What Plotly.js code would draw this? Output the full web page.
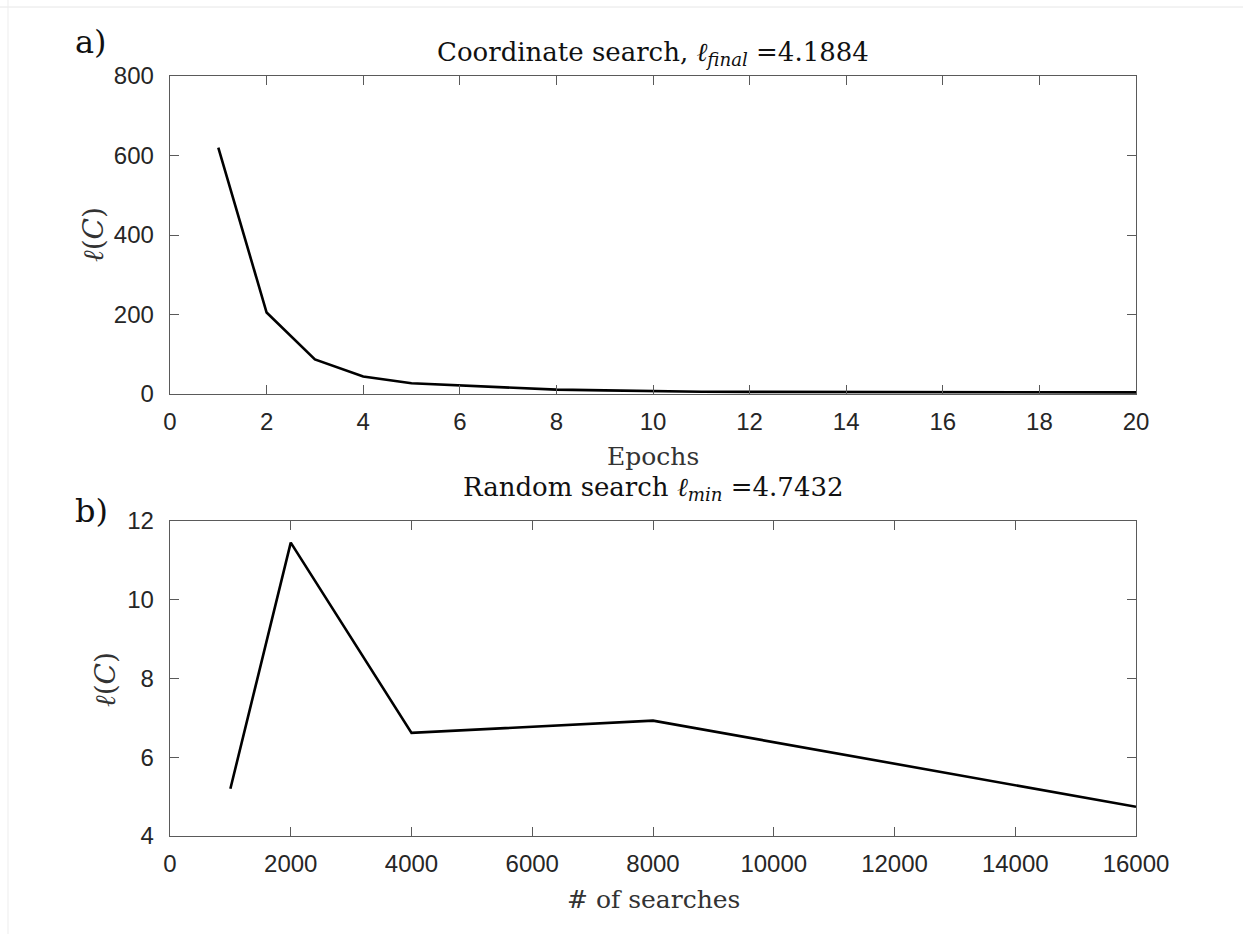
<!DOCTYPE html>
<html>
<head>
<meta charset="utf-8">
<script src="https://cdn.plot.ly/plotly-3.0.1.min.js"></script>
<style>html,body{margin:0;padding:0;background:#fff;}#chart{width:1243px;height:934px;}</style>
</head>
<body>
<div id="chart"></div>
<script>
// Panel a) Coordinate search
const epochs = [1,2,3,4,5,6,7,8,9,10,11,12,13,14,15,16,17,18,19,20];
const coordLoss = [620,205,87,44,27,22,16,11,9,7,5.8,5.3,5.0,4.8,4.6,4.5,4.4,4.3,4.25,4.1884];
// Panel b) Random search
const searches = [1000,2000,4000,8000,16000];
const randomLoss = [5.2,11.45,6.62,6.93,4.7432];

const xTicksA = [0,2,4,6,8,10,12,14,16,18,20];
const yTicksA = [0,200,400,600,800];
const xTicksB = [0,2000,4000,6000,8000,10000,12000,14000,16000];
const yTicksB = [4,6,8,10,12];

const axisColor = '#5a5a5a';
const tickFont = {family: 'Liberation Sans, Arial, sans-serif', size: 24, color: '#262626'};
const serif = 'DejaVu Serif, Liberation Serif, serif';

function axisBase(range, ticks, domain, anchor, isX) {
  return {
    range: range, domain: domain, anchor: anchor,
    tickmode: 'array', tickvals: ticks, ticktext: ticks.map(String),
    ticks: 'inside', ticklen: 9, tickwidth: 1, tickcolor: axisColor,
    showline: true, linecolor: axisColor, linewidth: 1.3, mirror: 'ticks',
    showgrid: false, zeroline: false, tickfont: tickFont, fixedrange: true,
    ticklabelstandoff: isX ? 6 : 10
  };
}

const traces = [
  {x: epochs, y: coordLoss, type: 'scatter', mode: 'lines', xaxis: 'x', yaxis: 'y',
   line: {color: '#000', width: 2.6}, hoverinfo: 'skip'},
  {x: searches, y: randomLoss, type: 'scatter', mode: 'lines', xaxis: 'x2', yaxis: 'y2',
   line: {color: '#000', width: 2.6}, hoverinfo: 'skip'}
];

const xd = [170/1243, 1136/1243];
const ydA = [1-394/934, 1-76/934];
const ydB = [1-836/934, 1-521/934];

function ann(text, x, y, size, color, extra) {
  return Object.assign({text: text, x: x/1243, y: 1-y/934, xref: 'paper', yref: 'paper',
    showarrow: false, xanchor: 'center', yanchor: 'middle',
    font: {family: serif, size: size, color: color}}, extra || {});
}

const layout = {
  width: 1243, height: 934,
  margin: {l: 0, r: 0, t: 0, b: 0},
  paper_bgcolor: '#fff', plot_bgcolor: '#fff',
  showlegend: false,
  xaxis: axisBase([0,20], xTicksA, xd, 'y', true),
  yaxis: axisBase([0,800], yTicksA, ydA, 'x', false),
  xaxis2: axisBase([0,16000], xTicksB, xd, 'y2', true),
  yaxis2: axisBase([4,12], yTicksB, ydB, 'x2', false),
  annotations: [
    ann('Coordinate search, <i>ℓ</i><sub><i>final</i></sub> =4.1884', 653, 54, 26, '#111'),
    ann('Epochs', 653, 456, 25, '#333'),
    ann('<i>ℓ</i>(<i>C</i>)', 93, 235, 28, '#333', {textangle: -90}),
    ann('a)', 91, 42, 32, '#111'),
    ann('Random search <i>ℓ</i><sub><i>min</i></sub> =4.7432', 653, 489, 26, '#111'),
    ann('# of searches', 653, 899, 25, '#333'),
    ann('<i>ℓ</i>(<i>C</i>)', 105, 680, 28, '#333', {textangle: -90}),
    ann('b)', 91, 511, 32, '#111')
  ],
  shapes: [
    {type: 'line', xref: 'paper', yref: 'paper', x0: 0, x1: 1, y0: 1-7/934, y1: 1-7/934,
     line: {color: '#e6e6e6', width: 1}},
    {type: 'line', xref: 'paper', yref: 'paper', x0: 8/1243, x1: 8/1243, y0: 0, y1: 1,
     line: {color: '#ededed', width: 1}}
  ]
};

Plotly.newPlot('chart', traces, layout, {displayModeBar: false, staticPlot: true});
</script>
</body>
</html>
